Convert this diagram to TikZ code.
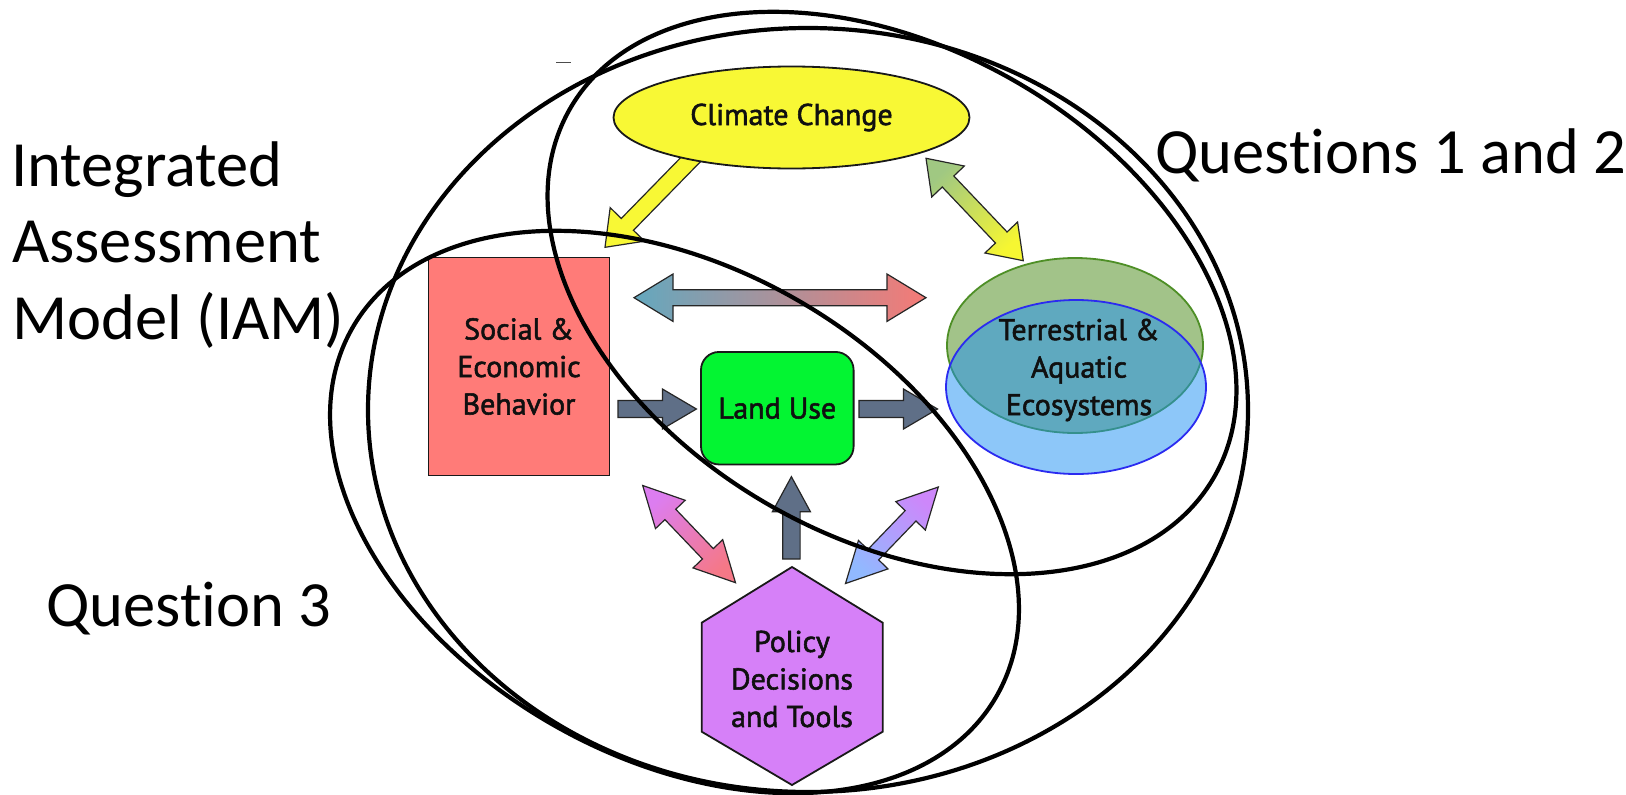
\documentclass[tikz,border=0pt]{standalone}
\usepackage{fontspec}
\setmainfont{PT Sans}
\newfontfamily\diagfont{PT Sans}[FakeBold=1.8]
\newfontfamily\calibri{Carlito}[Ligatures=NoCommon]
\usetikzlibrary{calc,shapes.geometric}

\definecolor{ccyellow}{HTML}{F8F835}
\definecolor{ccred}{HTML}{FF7B78}
\definecolor{ccgreen}{HTML}{03F532}
\definecolor{ccviolet}{HTML}{D680F8}
\definecolor{ccslate}{HTML}{5F6F87}
\definecolor{tgreen}{HTML}{478915}
\definecolor{tgreenline}{HTML}{4E8F26}
\definecolor{tblue}{HTML}{1D91F5}
\definecolor{tblueline}{HTML}{2B2BF0}
\definecolor{hleft}{HTML}{64A8BE}
\definecolor{hright}{HTML}{F57A76}
\definecolor{gtop}{HTML}{A0C882}
\definecolor{gbot}{HTML}{F6F632}
\definecolor{vtop}{HTML}{DC7DF0}
\definecolor{vbot}{HTML}{F57887}
\definecolor{bbot}{HTML}{91B9FF}
\definecolor{btop}{HTML}{CD87FA}
\definecolor{txt}{HTML}{101010}

% single block arrow: style, tail, tip, shaft half width, head half width, head length
\newcommand{\sblock}[6]{%
  \coordinate (hb) at ($(#3)!#6!(#2)$);
  \path[#1] ($(#2)!#4!90:(#3)$) -- ($(hb)!#4!90:(#3)$) -- ($(hb)!#5!90:(#3)$) -- (#3)
    -- ($(hb)!#5!-90:(#3)$) -- ($(hb)!#4!-90:(#3)$) -- ($(#2)!#4!-90:(#3)$) -- cycle;
}
% double block arrow: style, end A, end B, shaft half width, head half width, head length
\newcommand{\dblock}[6]{%
  \coordinate (ha) at ($(#2)!#6!(#3)$);
  \coordinate (hb) at ($(#3)!#6!(#2)$);
  \path[#1] (#2) -- ($(ha)!#5!90:(#3)$) -- ($(ha)!#4!90:(#3)$) -- ($(hb)!#4!90:(#3)$)
    -- ($(hb)!#5!90:(#3)$) -- (#3) -- ($(hb)!#5!-90:(#3)$) -- ($(hb)!#4!-90:(#3)$)
    -- ($(ha)!#4!-90:(#3)$) -- ($(ha)!#5!-90:(#3)$) -- cycle;
}

\begin{document}
\begin{tikzpicture}[x=1pt,y=-1pt,
  bigring/.style={draw=black, line width=4.2pt},
  boxline/.style={draw=black!90, line width=1.8pt},
  lbl/.style={font=\diagfont\fontsize{30}{37.5}\selectfont, text=txt, align=center, inner sep=0pt},
  titletext/.style={font=\calibri\fontsize{64.5}{76.7}\selectfont, inner sep=0pt, anchor=base west},
  arrline/.style={draw=black!85, line width=1.2pt, line join=miter},
  slatearrow/.style={arrline, fill=ccslate}]

\useasboundingbox (0,0) rectangle (1626,795);
\fill[white] (0,0) rectangle (1626,795);

% arrow end points
\coordinate (cs-a) at (700,150);    \coordinate (cs-b) at (605,247.3);
\coordinate (ct-a) at (926,158.3);  \coordinate (ct-b) at (1023.3,260.7);
\coordinate (st-a) at (634,297.7);  \coordinate (st-b) at (926,297.7);
\coordinate (sl-a) at (618,409);    \coordinate (sl-b) at (696.4,409);
\coordinate (lt-a) at (859,409);    \coordinate (lt-b) at (937.5,409);
\coordinate (pl-a) at (791.4,559);  \coordinate (pl-b) at (791.4,476.7);
\coordinate (sp-a) at (642.7,485.5);\coordinate (sp-b) at (735.5,582.7);
\coordinate (tp-a) at (845.5,583.5);\coordinate (tp-b) at (938.3,487);

% block arrows
\sblock{arrline, fill=ccyellow}{cs-a}{cs-b}{8.5pt}{24pt}{32pt}
\dblock{arrline, top color=gbot, bottom color=gtop, shading angle=-136.5}{ct-a}{ct-b}{8pt}{22.5pt}{32pt}
\dblock{arrline, left color=hleft, right color=hright}{st-a}{st-b}{8pt}{23.7pt}{39pt}
\sblock{slatearrow}{sl-a}{sl-b}{8.5pt}{20pt}{34pt}
\sblock{slatearrow}{lt-a}{lt-b}{8.5pt}{20pt}{34pt}
\sblock{slatearrow}{pl-a}{pl-b}{8.7pt}{19pt}{35pt}
\dblock{arrline, top color=vbot, bottom color=vtop, shading angle=-136.3}{sp-a}{sp-b}{7.5pt}{20.5pt}{40pt}
\dblock{arrline, bottom color=bbot, top color=btop, shading angle=-43.8}{tp-a}{tp-b}{7.5pt}{20.5pt}{40pt}

% boxes
\node[ellipse, boxline, fill=ccyellow, minimum width=356pt, minimum height=102pt, inner sep=0pt, lbl] (climate) at (791.5,117.5) {Climate Change};
\node[rectangle, boxline, fill=ccred, minimum width=181pt, minimum height=218pt, lbl] (social) at (519,366.5) {Social \&\\Economic\\Behavior};
\node[rectangle, rounded corners=18pt, boxline, fill=ccgreen, minimum width=152.6pt, minimum height=112.5pt, lbl] (land) at (777.3,408.2) {Land Use};
\node[ellipse, draw=tgreenline, line width=1.8pt, fill=tgreen, fill opacity=0.5, minimum width=256pt, minimum height=175pt, inner sep=0pt] (terrg) at (1075,345.5) {};
\node[ellipse, draw=tblueline, line width=1.8pt, fill=tblue, fill opacity=0.5, minimum width=260pt, minimum height=174pt, inner sep=0pt] (terrb) at (1076,387) {};
\node[lbl] (terr) at (1079,370) {Terrestrial \&\\Aquatic\\Ecosystems};
\path[boxline, fill=ccviolet] (792,567) -- (882.7,622.7) -- (882.7,731.7) -- (792,785) -- (701.7,731.7) -- (701.7,622.7) -- cycle;
\node[lbl] (policy) at (792,679) {Policy\\Decisions\\and Tools};

% large grouping ellipses
\draw[bigring] (808,410) ellipse [x radius=440, y radius=382];
\draw[bigring, rotate around={-29.7:(892,293)}] (892,293) ellipse [x radius=371, y radius=245];
\draw[bigring, rotate around={-29.7:(674.5,512)}] (674.5,512) ellipse [x radius=371, y radius=245];

% small mark
\draw[line width=1.5pt, black!70] (556,62.5) -- (571,62.5);

% labels
\node[titletext] (iam1) at (11,186) {Integrated};
\node[titletext] (iam2) at (12,262.5) {Assessment};
\node[titletext] (iam3) at (12,339) {Model (IAM)};
\node[titletext] (q12) at (1155,173) {Questions 1 and 2};
\node[titletext] (q3) at (46,626) {Question 3};
\end{tikzpicture}
\end{document}
